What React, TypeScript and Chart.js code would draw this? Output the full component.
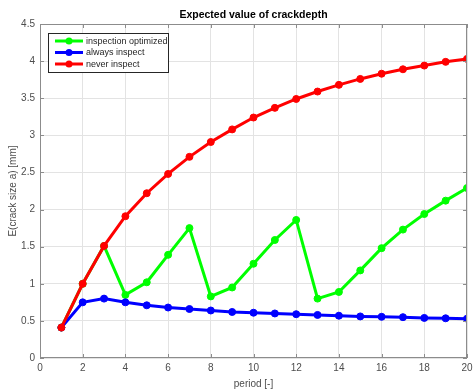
import React, { useEffect, useRef } from "react";
import { Chart, registerables } from "chart.js";

Chart.register(...registerables);

const periods = [1, 2, 3, 4, 5, 6, 7, 8, 9, 10, 11, 12, 13, 14, 15, 16, 17, 18, 19, 20];
const inspectionOptimized = [0.41, 1.0, 1.51, 0.85, 1.02, 1.39, 1.75, 0.83, 0.95, 1.27, 1.59, 1.86, 0.8, 0.89, 1.18, 1.48, 1.73, 1.94, 2.12, 2.29];
const alwaysInspect = [0.41, 0.75, 0.8, 0.75, 0.71, 0.68, 0.66, 0.64, 0.62, 0.61, 0.6, 0.59, 0.58, 0.57, 0.56, 0.555, 0.55, 0.54, 0.535, 0.53];
const neverInspect = [0.41, 1.0, 1.51, 1.91, 2.22, 2.48, 2.71, 2.91, 3.08, 3.24, 3.37, 3.49, 3.59, 3.68, 3.76, 3.83, 3.89, 3.94, 3.99, 4.03];

const seriesNames = ["inspection optimized", "always inspect", "never inspect"];
const seriesColors = ["#00ff00", "#0000ff", "#ff0000"];
const titleText = "Expected value of crackdepth";
const xLabel = "period [-]";
const yLabel = "E(crack size a) [mm]";

const FONT = "'Liberation Sans', Arial, Helvetica, sans-serif";

export default function App() {
  const ref = useRef<HTMLCanvasElement | null>(null);

  useEffect(() => {
    document.body.style.margin = "0";
    const canvas = ref.current;
    if (!canvas) return;

    const mk = (i: number, data: number[], order: number) => ({
      label: seriesNames[i],
      data: periods.map((p, k) => ({ x: p, y: data[k] })),
      borderColor: seriesColors[i],
      backgroundColor: seriesColors[i],
      borderWidth: 3,
      pointRadius: 3.5,
      pointBorderWidth: 1,
      pointBackgroundColor: seriesColors[i],
      pointBorderColor: seriesColors[i],
      tension: 0,
      order,
    });

    const framePlugin = {
      id: "frame",
      afterDraw(chart: any) {
        const ctx = chart.ctx;
        const a = chart.chartArea;
        ctx.save();
        ctx.strokeStyle = "#8c8c8c";
        ctx.lineWidth = 1;
        ctx.strokeRect(a.left + 0.5, a.top + 0.5, a.right - a.left - 1, a.bottom - a.top - 1);
        const xs = chart.scales.x;
        const ys = chart.scales.y;
        ctx.beginPath();
        xs.ticks.forEach((t: any) => {
          const px = Math.round(xs.getPixelForValue(t.value)) + 0.5;
          ctx.moveTo(px, a.top);
          ctx.lineTo(px, a.top + 4);
          ctx.moveTo(px, a.bottom);
          ctx.lineTo(px, a.bottom - 4);
        });
        ys.ticks.forEach((t: any) => {
          const py = Math.round(ys.getPixelForValue(t.value)) + 0.5;
          ctx.moveTo(a.right, py);
          ctx.lineTo(a.right - 4, py);
          ctx.moveTo(a.left, py);
          ctx.lineTo(a.left + 4, py);
        });
        ctx.stroke();

        ctx.fillStyle = "#000000";
        ctx.font = `bold 10.5px ${FONT}`;
        ctx.textAlign = "center";
        ctx.textBaseline = "middle";
        ctx.fillText(titleText, (a.left + a.right) / 2, 15);

        const lx = 48, ly = 33, lw = 120, lh = 39;
        ctx.fillStyle = "#ffffff";
        ctx.fillRect(lx, ly, lw, lh);
        ctx.strokeStyle = "#262626";
        ctx.lineWidth = 1;
        ctx.strokeRect(lx + 0.5, ly + 0.5, lw, lh);
        ctx.font = `9px ${FONT}`;
        ctx.textAlign = "left";
        seriesNames.forEach((name, i) => {
          const y = 41 + i * 11.5;
          ctx.strokeStyle = seriesColors[i];
          ctx.lineWidth = 3;
          ctx.beginPath();
          ctx.moveTo(55, y);
          ctx.lineTo(83, y);
          ctx.stroke();
          ctx.fillStyle = seriesColors[i];
          ctx.beginPath();
          ctx.arc(69, y, 3.5, 0, Math.PI * 2);
          ctx.fill();
          ctx.fillStyle = "#262626";
          ctx.fillText(name, 86, y + 0.5);
        });
        ctx.restore();
      },
    };

    const chart = new Chart(canvas, {
      type: "line",
      data: {
        datasets: [
          mk(0, inspectionOptimized, 3),
          mk(1, alwaysInspect, 2),
          mk(2, neverInspect, 1),
        ],
      },
      options: {
        responsive: false,
        animation: false,
        layout: { padding: { top: 24, right: 7, left: 0, bottom: 0 } },
        plugins: {
          legend: { display: false },
          title: { display: false },
          tooltip: { enabled: false },
        },
        scales: {
          x: {
            type: "linear",
            min: 0,
            max: 20,
            border: { display: false },
            grid: { color: "#e3e3e3", drawTicks: false },
            ticks: {
              stepSize: 2,
              color: "#4d4d4d",
              font: { family: FONT, size: 10 },
              padding: 4,
              maxRotation: 0,
            },
            title: {
              display: true,
              text: xLabel,
              color: "#4d4d4d",
              font: { family: FONT, size: 10 },
              padding: { top: 2, bottom: 0 },
            },
            afterFit: (s: any) => {
              s.height = 32;
              s.paddingRight = 0;
              s.paddingLeft = 0;
            },
          },
          y: {
            type: "linear",
            min: 0,
            max: 4.5,
            border: { display: false },
            grid: { color: "#e3e3e3", drawTicks: false },
            ticks: {
              stepSize: 0.5,
              color: "#4d4d4d",
              font: { family: FONT, size: 10 },
              padding: 5,
              callback: (v: any) => String(Math.round(Number(v) * 10) / 10),
            },
            title: {
              display: true,
              text: yLabel,
              color: "#4d4d4d",
              font: { family: FONT, size: 10 },
              padding: { top: 7, bottom: 0 },
            },
            afterFit: (s: any) => {
              s.width = 40;
            },
          },
        },
      },
      plugins: [framePlugin],
    });

    return () => chart.destroy();
  }, []);

  return <canvas ref={ref} width={474} height={390} style={{ display: "block" }} />;
}
